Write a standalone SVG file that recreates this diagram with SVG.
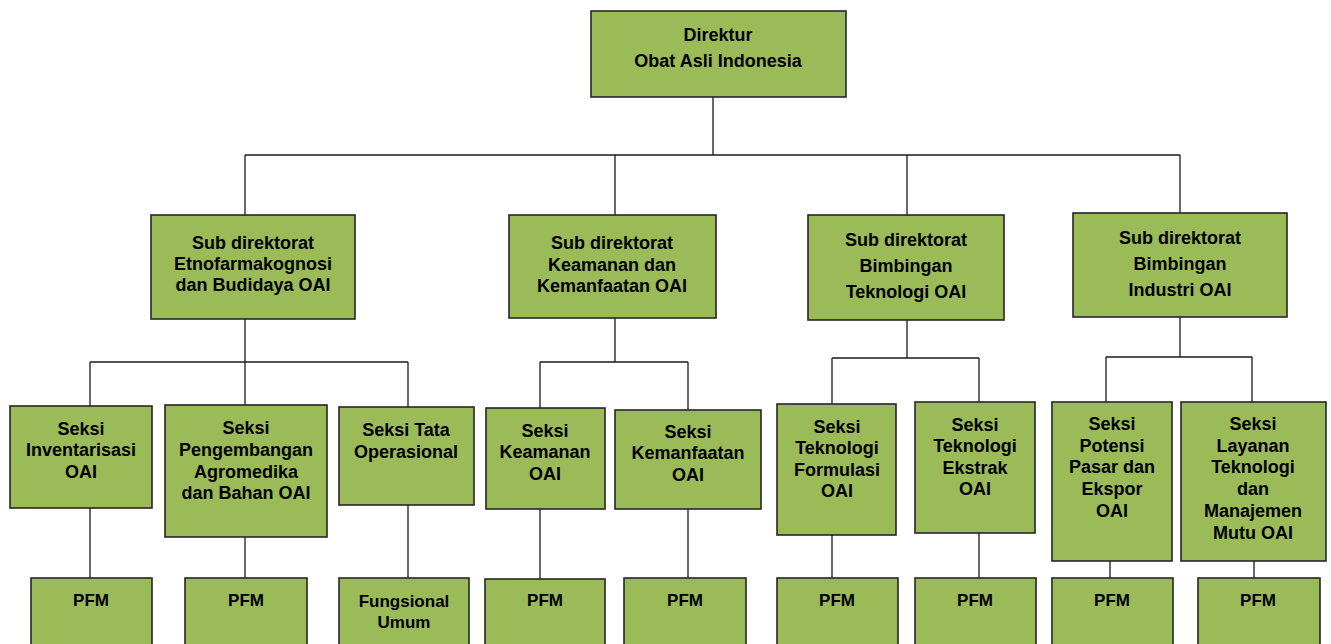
<svg xmlns="http://www.w3.org/2000/svg" width="1331" height="644" viewBox="0 0 1331 644">
<style>
.box{fill:#9BBB59;stroke:#262626;stroke-width:1.6}
.t{font-family:"Liberation Sans",Arial,sans-serif;font-weight:bold;font-size:18px;fill:#000;text-anchor:middle}
.s{font-size:17px}
#connectors line{stroke:#1a1a1a;stroke-width:1.3}
</style>
<rect width="1331" height="644" fill="#fff"/>
<g id="connectors">
<line x1="713" y1="97" x2="713" y2="155"/>
<line x1="245" y1="155" x2="1180" y2="155"/>
<line x1="245" y1="155" x2="245" y2="215"/>
<line x1="615" y1="155" x2="615" y2="215"/>
<line x1="907" y1="155" x2="907" y2="215"/>
<line x1="1180" y1="155" x2="1180" y2="213"/>
<line x1="245" y1="319" x2="245" y2="362"/>
<line x1="90" y1="362" x2="408" y2="362"/>
<line x1="90" y1="362" x2="90" y2="406"/>
<line x1="245" y1="362" x2="245" y2="405"/>
<line x1="408" y1="362" x2="408" y2="407"/>
<line x1="90" y1="508" x2="90" y2="578"/>
<line x1="245" y1="537" x2="245" y2="578"/>
<line x1="408" y1="505" x2="408" y2="578"/>
<line x1="615" y1="318" x2="615" y2="362"/>
<line x1="540" y1="362" x2="688" y2="362"/>
<line x1="540" y1="362" x2="540" y2="408"/>
<line x1="688" y1="362" x2="688" y2="410"/>
<line x1="540" y1="509" x2="540" y2="579"/>
<line x1="688" y1="509" x2="688" y2="578"/>
<line x1="907" y1="320" x2="907" y2="358"/>
<line x1="832" y1="358" x2="979" y2="358"/>
<line x1="832" y1="358" x2="832" y2="404"/>
<line x1="979" y1="358" x2="979" y2="402"/>
<line x1="832" y1="535" x2="832" y2="578"/>
<line x1="979" y1="533" x2="979" y2="578"/>
<line x1="1180" y1="317" x2="1180" y2="357"/>
<line x1="1106" y1="357" x2="1252" y2="357"/>
<line x1="1106" y1="357" x2="1106" y2="402"/>
<line x1="1252" y1="357" x2="1252" y2="402"/>
<line x1="1110" y1="561" x2="1110" y2="578"/>
<line x1="1254" y1="561" x2="1254" y2="578"/>
</g>
<g id="direktur"><rect class="box" x="591" y="11" width="255" height="86"/><text class="t" x="718" y="41">Direktur</text><text class="t" x="718" y="67">Obat Asli Indonesia</text></g>
<g id="sub1"><rect class="box" x="151" y="215" width="204" height="104"/><text class="t" x="253" y="249">Sub direktorat</text><text class="t" x="253" y="270">Etnofarmakognosi</text><text class="t" x="253" y="291">dan Budidaya OAI</text></g>
<g id="sub2"><rect class="box" x="509" y="215" width="207" height="103"/><text class="t" x="612" y="249">Sub direktorat</text><text class="t" x="612" y="271">Keamanan dan</text><text class="t" x="612" y="292">Kemanfaatan OAI</text></g>
<g id="sub3"><rect class="box" x="808" y="215" width="196" height="105"/><text class="t" x="906" y="246">Sub direktorat</text><text class="t" x="906" y="272">Bimbingan</text><text class="t" x="906" y="298">Teknologi OAI</text></g>
<g id="sub4"><rect class="box" x="1073" y="213" width="214" height="104"/><text class="t" x="1180" y="244">Sub direktorat</text><text class="t" x="1180" y="270">Bimbingan</text><text class="t" x="1180" y="296">Industri OAI</text></g>
<g id="seksi-inventarisasi"><rect class="box" x="10" y="406" width="142" height="102"/><text class="t" x="81" y="435">Seksi</text><text class="t" x="81" y="456">Inventarisasi</text><text class="t" x="81" y="478">OAI</text></g>
<g id="seksi-pengembangan"><rect class="box" x="165" y="405" width="162" height="132"/><text class="t" x="246" y="434">Seksi</text><text class="t" x="246" y="456">Pengembangan</text><text class="t" x="246" y="478">Agromedika</text><text class="t" x="246" y="499">dan Bahan OAI</text></g>
<g id="seksi-tata"><rect class="box" x="339" y="407" width="135" height="98"/><text class="t" x="406" y="436">Seksi Tata</text><text class="t" x="406" y="458">Operasional</text></g>
<g id="seksi-keamanan"><rect class="box" x="486" y="408" width="119" height="101"/><text class="t" x="545" y="437">Seksi</text><text class="t" x="545" y="458">Keamanan</text><text class="t" x="545" y="480">OAI</text></g>
<g id="seksi-kemanfaatan"><rect class="box" x="615" y="410" width="146" height="99"/><text class="t" x="688" y="438">Seksi</text><text class="t" x="688" y="459">Kemanfaatan</text><text class="t" x="688" y="481">OAI</text></g>
<g id="seksi-formulasi"><rect class="box" x="777" y="404" width="119" height="131"/><text class="t" x="837" y="433">Seksi</text><text class="t" x="837" y="454">Teknologi</text><text class="t" x="837" y="476">Formulasi</text><text class="t" x="837" y="497">OAI</text></g>
<g id="seksi-ekstrak"><rect class="box" x="915" y="402" width="120" height="131"/><text class="t" x="975" y="431">Seksi</text><text class="t" x="975" y="452">Teknologi</text><text class="t" x="975" y="474">Ekstrak</text><text class="t" x="975" y="495">OAI</text></g>
<g id="seksi-potensi"><rect class="box" x="1052" y="402" width="120" height="159"/><text class="t" x="1112" y="430">Seksi</text><text class="t" x="1112" y="452">Potensi</text><text class="t" x="1112" y="473">Pasar dan</text><text class="t" x="1112" y="495">Ekspor</text><text class="t" x="1112" y="517">OAI</text></g>
<g id="seksi-layanan"><rect class="box" x="1181" y="402" width="145" height="159"/><text class="t" x="1253" y="430">Seksi</text><text class="t" x="1253" y="452">Layanan</text><text class="t" x="1253" y="473">Teknologi</text><text class="t" x="1253" y="495">dan</text><text class="t" x="1253" y="517">Manajemen</text><text class="t" x="1253" y="539">Mutu OAI</text></g>
<g id="pfm1"><rect class="box" x="31" y="578" width="121" height="82"/><text class="t s" x="91" y="606">PFM</text></g>
<g id="pfm2"><rect class="box" x="185" y="578" width="122" height="82"/><text class="t s" x="246" y="606">PFM</text></g>
<g id="fungsional"><rect class="box" x="339" y="578" width="130" height="82"/><text class="t s" x="404" y="607">Fungsional</text><text class="t s" x="404" y="628">Umum</text></g>
<g id="pfm4"><rect class="box" x="485" y="579" width="120" height="81"/><text class="t s" x="545" y="606">PFM</text></g>
<g id="pfm5"><rect class="box" x="624" y="578" width="122" height="82"/><text class="t s" x="685" y="606">PFM</text></g>
<g id="pfm6"><rect class="box" x="777" y="578" width="121" height="82"/><text class="t s" x="837" y="606">PFM</text></g>
<g id="pfm7"><rect class="box" x="915" y="578" width="121" height="82"/><text class="t s" x="975" y="606">PFM</text></g>
<g id="pfm8"><rect class="box" x="1052" y="578" width="121" height="82"/><text class="t s" x="1112" y="606">PFM</text></g>
<g id="pfm9"><rect class="box" x="1198" y="578" width="122" height="82"/><text class="t s" x="1258" y="606">PFM</text></g>
</svg>
